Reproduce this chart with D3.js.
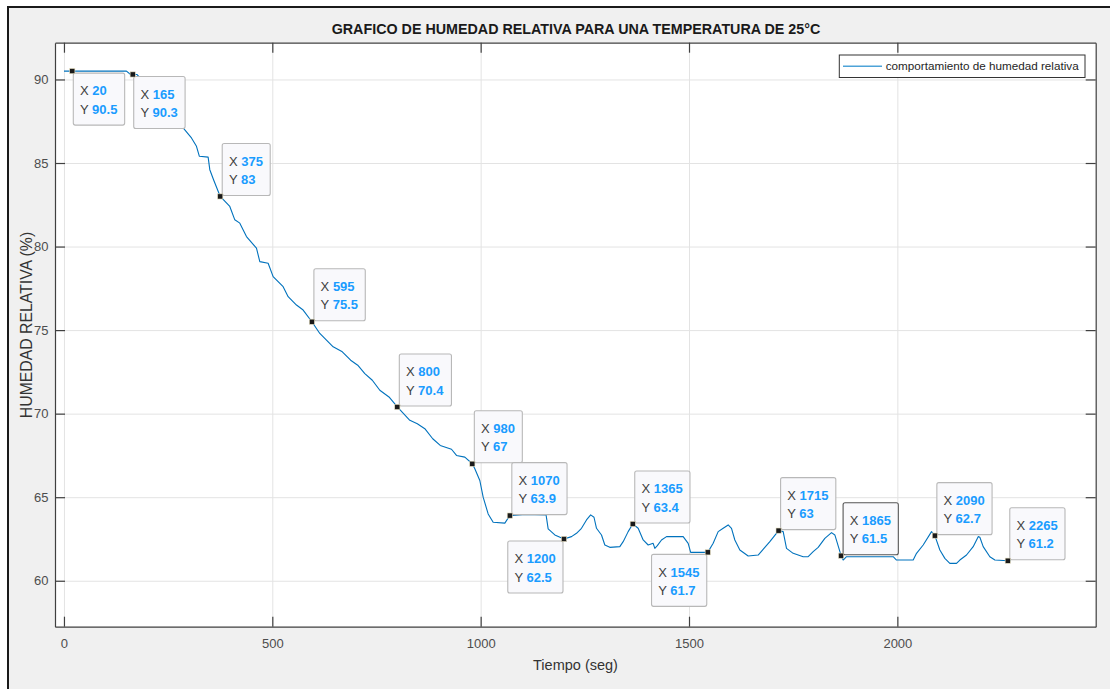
<!DOCTYPE html>
<html>
<head>
<meta charset="utf-8">
<script src="https://cdn.jsdelivr.net/npm/d3@7"></script>
<style>
  html, body { margin: 0; padding: 0; background: #ffffff; }
  svg { display: block; font-family: "Liberation Sans", Arial, Helvetica, sans-serif; }
</style>
</head>
<body>
<svg id="chart" width="1110" height="689"></svg>
<script>
// Relative humidity record at 25 °C: time (s) and humidity (%)
const timeSec = [0, 20, 150, 160, 165, 175, 200, 230, 260, 286, 306, 318, 325, 346, 350, 359, 375,
  398, 410, 422, 438, 462, 470, 490, 502, 526, 538, 558, 574, 595, 614, 646, 668, 688, 705, 722, 740,
  758, 780, 800, 815, 830, 848, 866, 885, 903, 930, 942, 962, 980, 986, 998, 1006, 1018, 1030, 1058,
  1070, 1100, 1130, 1157,
  1162, 1178, 1200, 1218, 1230, 1242, 1254, 1264, 1272, 1278, 1290, 1298, 1310, 1334, 1342, 1354,
  1365, 1378, 1390, 1402, 1414, 1418, 1424, 1434, 1446, 1486, 1498, 1504, 1520, 1545, 1558, 1570,
  1582, 1594, 1602, 1610, 1622, 1642, 1666, 1682, 1694, 1715, 1726, 1734, 1750, 1774, 1786, 1798,
  1810, 1826, 1842, 1850, 1865, 1870, 1878, 1918, 1960, 1990, 1998, 2038, 2046, 2062, 2082, 2090,
  2102, 2114, 2126, 2142, 2150, 2166, 2182, 2194, 2198, 2206, 2222, 2234, 2265, 2272];
const humidity = [90.5, 90.5, 90.5, 90.3, 90.3, 90.3, 89.6, 88.8, 88.0, 87.1, 86.5, 86.0, 85.4, 85.35,
  84.6, 84.0, 83.0, 82.4, 81.6, 81.4, 80.6, 79.9, 79.1, 79.0, 78.2, 77.6, 77.0, 76.5, 76.2, 75.5,
  74.8, 74.0, 73.7, 73.2, 72.9, 72.4, 72.0, 71.4, 71.0, 70.4, 70.0, 69.6, 69.4, 69.1, 68.5, 68.1,
  67.87, 67.5, 67.4, 67.0, 66.7, 66.0, 65.0, 64.0, 63.5, 63.45, 63.9, 63.95, 63.95, 63.94,
  63.1, 62.74, 62.5, 62.64, 62.84, 63.14, 63.64,
  63.94, 63.8, 63.14, 62.74, 62.14, 62.0, 62.04, 62.34, 62.94, 63.4, 63.14, 62.44, 62.14, 62.24,
  61.94, 62.1, 62.44, 62.64, 62.64, 62.24, 61.7, 61.7, 61.7, 62.24, 62.94, 63.14, 63.34, 63.14,
  62.44, 61.84, 61.48, 61.54, 62.0, 62.34, 63.0, 62.94, 61.94, 61.64, 61.44, 61.44, 61.74, 62.0,
  62.54, 62.88, 62.74, 61.5, 61.24, 61.44, 61.44, 61.44, 61.44, 61.24, 61.24, 61.64, 62.14, 62.94,
  62.7, 61.84, 61.34, 61.04, 61.04, 61.24, 61.54, 62.04, 62.64, 62.6, 62.04, 61.44, 61.24, 61.2, 61.2];

// Data tips placed on the curve
const tipX = [20, 165, 375, 595, 800, 980, 1070, 1200, 1365, 1545, 1715, 1865, 2090, 2265];
const tipY = [90.5, 90.3, 83, 75.5, 70.4, 67, 63.9, 62.5, 63.4, 61.7, 63, 61.5, 62.7, 61.2];

// Tick values
const xTicks = [0, 500, 1000, 1500, 2000];
const yTicks = [60, 65, 70, 75, 80, 85, 90];

const titleText = "GRAFICO DE HUMEDAD RELATIVA PARA UNA TEMPERATURA DE 25°C";
const xLabel = "Tiempo (seg)";
const yLabel = "HUMEDAD RELATIVA (%)";
const legendLabel = "comportamiento de humedad relativa";

// ---- layout ----
const W = 1110, H = 689;
const plot = { left: 55, top: 42.7, right: 1095.7, bottom: 626.7 };
// which corner of each tip box touches its point: ne = box above-right, se = below-right, sw = below-left
const tipPlacement = ["se", "se", "ne", "ne", "ne", "ne", "ne", "sw", "ne", "sw", "ne", "ne", "ne", "ne"];
const activeTip = 11;

const svg = d3.select("#chart");

// figure background with dark frame on top/left
svg.append("rect").attr("x", 8).attr("y", 7).attr("width", W - 8).attr("height", H - 7).attr("fill", "#f0f0f0");
svg.append("line").attr("x1", 8).attr("x2", 8).attr("y1", 6).attr("y2", H).attr("stroke", "#1a1a1a").attr("stroke-width", 2);
svg.append("line").attr("x1", 7).attr("x2", W).attr("y1", 7).attr("y2", 7).attr("stroke", "#1a1a1a").attr("stroke-width", 2);

const x = d3.scaleLinear().domain([-21.5, 2476]).range([plot.left, plot.right]);
const y = d3.scaleLinear().domain([57.25, 92.2]).range([plot.bottom, plot.top]);
const pw = plot.right - plot.left, ph = plot.bottom - plot.top;
const fmt = d3.format("d");

// axes background
svg.append("rect").attr("x", plot.left).attr("y", plot.top).attr("width", pw).attr("height", ph).attr("fill", "#ffffff");

// grid
const grid = svg.append("g").attr("class", "grid");
grid.append("g").attr("transform", `translate(0,${plot.bottom})`)
  .call(d3.axisBottom(x).tickValues(xTicks).tickSize(-ph).tickFormat(""))
  .call(g => g.select(".domain").remove())
  .call(g => g.selectAll("line").attr("stroke", "#e3e3e3").attr("stroke-width", 1));
grid.append("g").attr("transform", `translate(${plot.left},0)`)
  .call(d3.axisLeft(y).tickValues(yTicks).tickSize(-pw).tickFormat(""))
  .call(g => g.select(".domain").remove())
  .call(g => g.selectAll("line").attr("stroke", "#e3e3e3").attr("stroke-width", 1));

// humidity curve
const series = timeSec.map((t, i) => [t, humidity[i]]);
svg.append("path")
  .datum(series)
  .attr("fill", "none")
  .attr("stroke", "#0072bd")
  .attr("stroke-width", 1.1)
  .attr("stroke-linejoin", "round")
  .attr("d", d3.line().x(d => x(d[0])).y(d => y(d[1])));

// axes with inward ticks on all four sides
const axisColor = "#404040";
const tickLen = 10;
const styleAxis = g => {
  g.select(".domain").attr("stroke", axisColor).attr("stroke-width", 1.2);
  g.selectAll(".tick line").attr("stroke", axisColor).attr("stroke-width", 1.2);
  g.selectAll("text").attr("fill", "#4d4d4d").attr("font-size", 13).attr("font-family", "Liberation Sans, Arial, sans-serif");
};
svg.append("g").attr("transform", `translate(0,${plot.bottom})`)
  .call(d3.axisBottom(x).tickValues(xTicks).tickFormat(fmt).tickSize(-tickLen).tickPadding(12).tickSizeOuter(0))
  .call(styleAxis);
svg.append("g").attr("transform", `translate(0,${plot.top})`)
  .call(d3.axisTop(x).tickValues(xTicks).tickSize(-tickLen).tickFormat("").tickSizeOuter(0))
  .call(styleAxis);
svg.append("g").attr("transform", `translate(${plot.left},0)`)
  .call(d3.axisLeft(y).tickValues(yTicks).tickFormat(fmt).tickSize(-tickLen).tickPadding(6.5).tickSizeOuter(0))
  .call(styleAxis);
svg.append("g").attr("transform", `translate(${plot.right},0)`)
  .call(d3.axisRight(y).tickValues(yTicks).tickSize(-tickLen).tickFormat("").tickSizeOuter(0))
  .call(styleAxis);

// title and axis labels
svg.append("text").attr("x", 576).attr("y", 34.3).attr("text-anchor", "middle")
  .attr("font-weight", "bold").attr("font-size", 14.3).attr("fill", "#1a1a1a").text(titleText);
svg.append("text").attr("x", 575.5).attr("y", 670).attr("text-anchor", "middle")
  .attr("font-size", 14.5).attr("fill", "#333333").text(xLabel);
svg.append("text").attr("transform", "translate(31.5,325) rotate(-90)").attr("text-anchor", "middle")
  .attr("font-size", 15.8).attr("fill", "#333333").text(yLabel);

// data tips
const tipsLayer = svg.append("g");
tipX.forEach((tx, i) => {
  const mx = x(tx), my = y(tipY[i]);
  const g = tipsLayer.append("g");
  const box = g.append("rect");
  const tl = g.append("text").attr("font-size", 13);
  const l1 = tl.append("tspan").attr("x", 0).attr("y", 0);
  l1.append("tspan").attr("fill", "#404040").text("X ");
  l1.append("tspan").attr("fill", "#1a9cff").attr("font-weight", "bold").text(String(tx));
  const l2 = tl.append("tspan").attr("x", 0).attr("y", 18.3);
  l2.append("tspan").attr("fill", "#404040").text("Y ");
  l2.append("tspan").attr("fill", "#1a9cff").attr("font-weight", "bold").text(String(tipY[i]));
  const tw = tl.node().getBBox().width;
  const bw = tw + 14, bh = 52;
  const pl = tipPlacement[i];
  let bx, by;
  if (pl === "ne") { bx = mx + 2; by = my - 1 - bh; }
  else if (pl === "se") { bx = mx + 1; by = my + 2; }
  else { bx = mx - 1 - bw; by = my + 2; }
  box.attr("x", bx).attr("y", by).attr("width", bw).attr("height", bh)
    .attr("rx", 2).attr("fill", "#f9f9fc")
    .attr("stroke", i === activeTip ? "#555555" : "#b8b8b8").attr("stroke-width", 1.1);
  tl.attr("transform", `translate(${bx + 6.7},${by + 22.3})`);
  // data point marker
  tipsLayer.append("rect").attr("x", mx - 2.6).attr("y", my - 2.6).attr("width", 5.2).attr("height", 5.2)
    .attr("fill", "#1a1a1a").attr("stroke", "#e9e2c4").attr("stroke-width", 0.6);
});

// legend
const lg = svg.append("g");
lg.append("rect").attr("x", 839.3).attr("y", 55).attr("width", 245.7).attr("height", 22.5)
  .attr("fill", "#ffffff").attr("stroke", "#333333").attr("stroke-width", 1);
lg.append("line").attr("x1", 843).attr("x2", 882).attr("y1", 66.2).attr("y2", 66.2)
  .attr("stroke", "#4ea3d8").attr("stroke-width", 1.6);
lg.append("text").attr("x", 885.7).attr("y", 70.3).attr("font-size", 11.7).attr("fill", "#262626").text(legendLabel);
</script>
</body>
</html>
